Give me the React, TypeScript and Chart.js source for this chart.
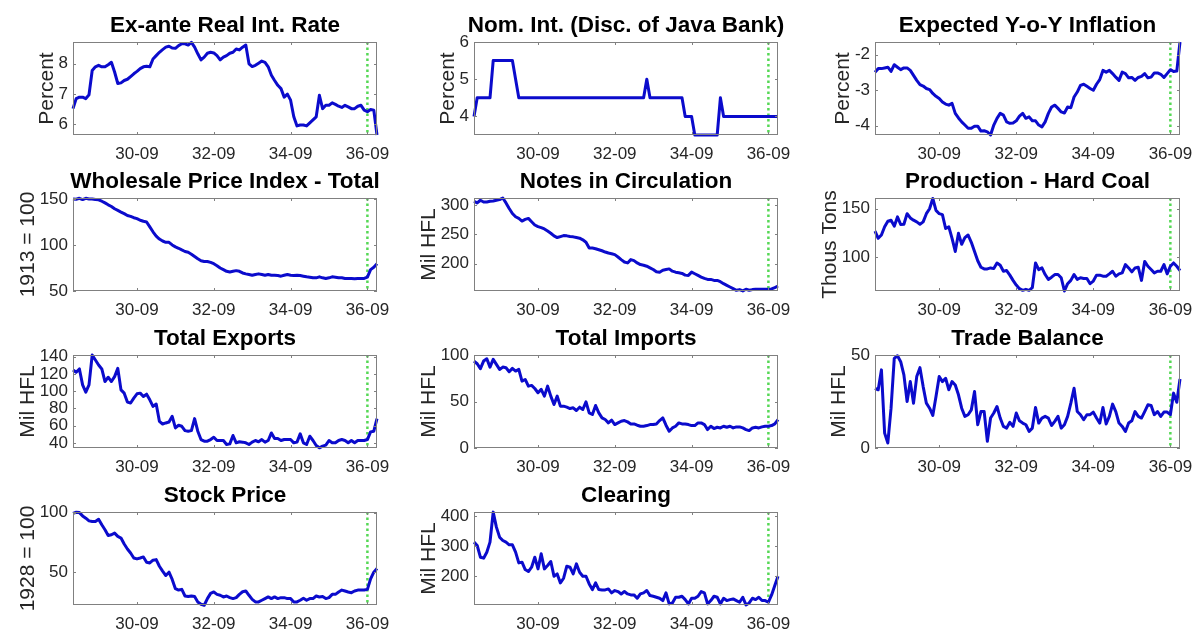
import React, { useEffect, useRef } from 'react';
import { Chart, registerables } from 'chart.js';

Chart.register(...registerables);

const FONT = '"Liberation Sans", Arial, Helvetica, sans-serif';
const LINE_COLOR = '#0b0bcc';
const BREAK_COLOR = '#55d855';
const AXIS_COLOR = '#808080';
const TEXT_COLOR = '#262626';

// x axis: month index, 0 = Jan 1929 ... 95 = Dec 1936
const monthCount = 96;
const monthIndex = Array.from({ length: monthCount }, (_, i) => i);
const xTickPositions = [20, 44, 68, 92];
const xTickLabels = ['30-09', '32-09', '34-09', '36-09'];
const breakMonth = 92;

const exAnteReal = [
  6.52, 6.85, 6.9, 6.9, 6.85, 6.98, 7.78, 7.9, 7.95, 7.9,
  7.9, 7.97, 8.05, 7.73, 7.35, 7.37, 7.45, 7.49, 7.58, 7.67,
  7.75, 7.84, 7.9, 7.92, 7.9, 8.16, 8.27, 8.38, 8.47, 8.55,
  8.58, 8.52, 8.51, 8.6, 8.66, 8.66, 8.62, 8.71, 8.55, 8.33,
  8.13, 8.22, 8.35, 8.38, 8.36, 8.27, 8.13, 8.22, 8.27, 8.35,
  8.38, 8.49, 8.46, 8.55, 8.62, 8.0, 7.91, 7.95, 8.02, 8.09,
  8.05, 7.9, 7.62, 7.45, 7.29, 7.18, 6.9, 7.0, 6.8, 6.25,
  5.95, 5.98, 5.98, 5.95, 6.05, 6.15, 6.25, 6.96, 6.52, 6.63,
  6.63, 6.71, 6.66, 6.6, 6.56, 6.63, 6.58, 6.52, 6.52, 6.6,
  6.63, 6.47, 6.42, 6.49, 6.47, 5.65,
];

const nomInterest = [
  4.0, 4.5, 4.5, 4.5, 4.5, 4.5, 5.5, 5.5, 5.5, 5.5,
  5.5, 5.5, 5.5, 5.0, 4.5, 4.5, 4.5, 4.5, 4.5, 4.5,
  4.5, 4.5, 4.5, 4.5, 4.5, 4.5, 4.5, 4.5, 4.5, 4.5,
  4.5, 4.5, 4.5, 4.5, 4.5, 4.5, 4.5, 4.5, 4.5, 4.5,
  4.5, 4.5, 4.5, 4.5, 4.5, 4.5, 4.5, 4.5, 4.5, 4.5,
  4.5, 4.5, 4.5, 4.5, 5.0, 4.5, 4.5, 4.5, 4.5, 4.5,
  4.5, 4.5, 4.5, 4.5, 4.5, 4.5, 4.0, 4.0, 4.0, 3.5,
  3.5, 3.5, 3.5, 3.5, 3.5, 3.5, 3.5, 4.5, 4.0, 4.0,
  4.0, 4.0, 4.0, 4.0, 4.0, 4.0, 4.0, 4.0, 4.0, 4.0,
  4.0, 4.0, 4.0, 4.0, 4.0, 4.0,
];

const expectedInflation = [
  -2.49, -2.39, -2.39, -2.37, -2.35, -2.47, -2.28, -2.35, -2.42, -2.37,
  -2.37, -2.44, -2.58, -2.72, -2.84, -2.88, -2.95, -2.98, -3.09, -3.17,
  -3.23, -3.33, -3.39, -3.42, -3.37, -3.65, -3.78, -3.89, -3.98, -4.07,
  -4.07, -4.01, -4.01, -4.15, -4.14, -4.17, -4.26, -3.98, -3.79, -3.65,
  -3.7, -3.89, -3.93, -3.92, -3.86, -3.73, -3.65, -3.79, -3.75, -3.86,
  -3.86, -3.98, -4.03, -3.89, -3.65, -3.47, -3.42, -3.51, -3.61, -3.64,
  -3.47, -3.49, -3.19, -3.05, -2.86, -2.83, -2.89, -2.95, -3.0, -2.83,
  -2.7, -2.44, -2.49, -2.44, -2.53, -2.63, -2.72, -2.49, -2.53, -2.65,
  -2.64, -2.72, -2.64, -2.61, -2.53, -2.65, -2.63, -2.51, -2.51, -2.55,
  -2.64, -2.53, -2.42, -2.47, -2.46, -1.64,
];

const wholesalePrice = [
  150, 149.6, 150.7, 149.3, 150.7, 150, 150, 149.3, 149, 147.5,
  145.7, 143.6, 141.8, 139.3, 137.5, 135.7, 134, 132, 131, 129.6,
  128.6, 126.8, 125.7, 125, 119.6, 114.3, 109.6, 106.4, 104.3, 102.9,
  102.9, 100, 97.9, 96.4, 94.6, 92.9, 92.1, 90, 87.5, 85,
  82.9, 82.1, 82.1, 81.1, 79.6, 77.5, 75, 73.2, 71.4, 70.7,
  71.4, 72.1, 71.4, 69.6, 68.6, 67.9, 67.1, 67.9, 68.6, 67.9,
  67.1, 67.9, 67.1, 67.1, 66.8, 66.1, 67.1, 67.9, 67.1, 66.8,
  67.1, 66.8, 66.1, 65.4, 65, 64.3, 64.3, 65.4, 64.3, 63.6,
  64.3, 65.4, 65, 64.3, 64.3, 63.6, 63.6, 63.6, 63.2, 63.6,
  63.6, 63.6, 65, 73.2, 75.7, 79.6,
];

const notesCirculation = [
  306.8, 304, 308.5, 305.6, 305.6, 306.8, 307.3, 308.5, 309.6, 312.4,
  304, 294.4, 285.9, 280.2, 277.4, 272.9, 275.7, 277.4, 271.8, 266.1,
  263.3, 261.6, 259.3, 255.9, 252, 247.5, 244.6, 246.3, 248, 247.5,
  246.3, 245.8, 244.6, 243.5, 240.7, 236.7, 226.6, 226.6, 225.4, 223.7,
  222, 219.8, 218.1, 216.9, 215.3, 211.3, 206.8, 202.8, 201.1, 206.8,
  205.1, 201.1, 198.3, 197.2, 195.5, 192.7, 189.8, 185.9, 185.3, 188.7,
  189.8, 190.9, 187, 185.3, 184.2, 183.1, 180.2, 179.7, 185.3, 182.5,
  179.7, 176.8, 174.6, 172.9, 172.9, 171.2, 171.2, 168.9, 165.5, 162.7,
  159.9, 157.1, 154.2, 155.4, 153.1, 156, 154.2, 155.4, 156, 156,
  156, 156, 156, 156.5, 158.8, 161.6,
];

const hardCoal = [
  127, 119.6, 123, 131.4, 137.2, 138.2, 132.1, 141.6, 133.8, 134.1,
  144.9, 140.5, 138.2, 136.5, 134.1, 136.5, 144.9, 150, 160.5, 148.3,
  144.9, 143.9, 129.7, 131.4, 119.6, 106.1, 124.7, 113.5, 120.3, 123,
  115.5, 106, 96.6, 89.9, 88.2, 88.2, 89.2, 88.5, 94.3, 91.9,
  85.8, 86.5, 81.8, 76.4, 71.6, 67.9, 66.2, 67.2, 66.2, 68.9,
  94.3, 87.5, 89.2, 82.4, 77.4, 79.7, 82.4, 82.4, 79.1, 65.5,
  73, 76.4, 82.4, 77.4, 79.1, 78.4, 78.4, 73, 75.7, 81.8,
  81.8, 80.7, 80.7, 83.1, 85.8, 80.7, 83.1, 84.1, 92.6, 89.2,
  85.1, 89.2, 89.9, 76.4, 95.9, 90.9, 87.5, 84.1, 85.8, 85.8,
  92.6, 83.1, 90.9, 94.3, 90.9, 86.5,
];

const totalExports = [
  124.6, 121.9, 125.8, 107.3, 98.8, 107.3, 141.9, 136.2, 130.4, 125.8,
  111.2, 116.2, 111.2, 116.9, 126.5, 101.5, 97.7, 87.3, 86.2, 91.9,
  96.9, 97.7, 93.8, 96.5, 90, 82.3, 85, 65, 61.9, 63.1,
  64.2, 70.8, 57.3, 60.4, 59.2, 54.2, 53.5, 54.2, 68.1, 53.5,
  43.8, 41.9, 41.9, 43.8, 46.5, 42.7, 42.7, 42.7, 38.1, 38.8,
  48.5, 40, 41.2, 40.8, 40, 38.1, 40.8, 42.7, 41.2, 43.8,
  40.8, 42.7, 51.5, 45, 45, 42.7, 43.8, 43.8, 43.8, 40,
  40.8, 50.4, 40, 38.1, 47.7, 42.7, 36.9, 34.2, 36.2, 37.3,
  42.7, 40, 40, 42.7, 43.8, 42.7, 40, 42.7, 40, 42.7,
  42.7, 42.7, 43.8, 52.7, 53.5, 68.1,
];

const totalImports = [
  93.5, 90.6, 85.3, 93.5, 96, 87, 95.3, 89.9, 84.5, 87,
  86.3, 82, 85.6, 82.7, 84.5, 71.9, 73.7, 66.5, 67.3, 64,
  59.4, 63, 55.8, 66.5, 55.8, 46.8, 55.8, 45, 45, 43.9,
  42.4, 43.2, 40.3, 43.9, 41.4, 49.6, 37.8, 36, 45.7, 37.8,
  32.4, 30.6, 27, 29.9, 25.2, 27, 28.8, 29.5, 28.1, 25.9,
  25.9, 24.5, 23.4, 23.4, 24.1, 25.2, 25.2, 25.9, 29.5, 32.4,
  24.5, 18, 21.6, 23.4, 27, 25.9, 25.9, 25.2, 24.1, 24.1,
  27, 27, 25.2, 19.8, 23.4, 20.9, 22.3, 21.6, 23.4, 22.3,
  23.4, 21.6, 22.7, 22.7, 21.6, 19.8, 18.7, 21.6, 22.3, 21.6,
  22.7, 23.4, 23.4, 24.1, 25.9, 30.6,
];

const tradeBalance = [
  32.1, 31.3, 42, 8, 2.7, 21.4, 48.2, 49.6, 46.4, 39.3,
  25, 35.7, 24.1, 38.4, 43.2, 33, 24.1, 21.4, 17.5, 27.7,
  38.4, 35.7, 37.5, 31.3, 35.7, 33.9, 28.6, 21.4, 17, 17.9,
  20.5, 30.4, 12.5, 19.6, 19.6, 3.6, 16.1, 18.8, 22.3, 16.1,
  11.6, 10.7, 13.8, 11.6, 18.8, 14.6, 13.4, 12.5, 8.9, 10.7,
  21.8, 13.4, 16.1, 17, 16.1, 12.1, 14.3, 17, 10.7, 12.5,
  17, 24.1, 32.1, 19.6, 17.9, 15.2, 17.9, 17.9, 19.3, 16.1,
  13.4, 21.8, 12.9, 17, 23.6, 19.6, 13.4, 11.6, 8.9, 13.4,
  14.6, 19.6, 17, 16.1, 19.6, 23.2, 22.9, 17.9, 19.6, 17,
  19.3, 19.3, 17.9, 29.5, 24.6, 37.1,
];

const stockPrice = [
  99.4, 100.3, 100, 97.2, 95.3, 93, 92.5, 92.5, 94.4, 89.7,
  85.5, 80.7, 81.3, 82.7, 79.9, 78.5, 73.5, 69.3, 65.9, 61.7,
  60.9, 61.7, 62.6, 58.1, 57.5, 59.8, 60.3, 54.7, 50.6, 46.9,
  49.7, 43.6, 35.8, 34.6, 35.2, 29.6, 29.1, 29.6, 29.1, 24.6,
  22.6, 21.8, 27.4, 31.8, 33, 31, 30.2, 28.8, 29.6, 28.2,
  27.4, 28.2, 31, 33.2, 33.8, 30.2, 26.8, 24.6, 24.6, 26,
  27.4, 28.8, 27.4, 28.8, 27.4, 28.2, 28.2, 27.4, 27.4, 24.6,
  24.6, 26, 27.7, 26, 27.4, 27.4, 29.6, 28.8, 29.1, 27.4,
  28.2, 31, 31, 33, 34.6, 33.8, 33, 32.4, 33.8, 34.6,
  34.6, 34.6, 35.2, 44.1, 49.7, 52.8,
];

const clearing = [
  313.5, 302.2, 262.9, 259.6, 279.8, 313.5, 414.6, 364, 330.3, 319.1,
  313.5, 304.5, 304.5, 279.8, 243.8, 246.1, 221.3, 214.6, 229.2, 262.9,
  223.6, 274.2, 223.6, 234.8, 248.3, 198.9, 206.7, 176.4, 192.1, 232.6,
  229.2, 206.7, 240.4, 212.4, 198.9, 198.9, 173, 153.9, 176.4, 153.9,
  152.8, 152.8, 156.2, 142.7, 150.6, 147.2, 139.3, 147.2, 139.3, 136,
  136, 124.7, 139.3, 142.7, 150.6, 133.7, 131.5, 128.1, 124.7, 116.9,
  142.7, 105.6, 109, 128.1, 128.1, 131.5, 120.2, 105.6, 124.7, 124.7,
  131.5, 147.2, 142.7, 105.6, 116.9, 131.5, 128.1, 105.6, 124.7, 116.9,
  120.2, 122.5, 116.9, 111.2, 128.1, 102.2, 109, 124.7, 120.2, 128.1,
  116.9, 116.9, 111.2, 136, 167.4, 198.9,
];

const panelTitles = [
  'Ex-ante Real Int. Rate', 'Nom. Int. (Disc. of Java Bank)', 'Expected Y-o-Y Inflation',
  'Wholesale Price Index - Total', 'Notes in Circulation', 'Production - Hard Coal',
  'Total Exports', 'Total Imports', 'Trade Balance',
  'Stock Price', 'Clearing',
];
const panelYLabels = [
  'Percent', 'Percent', 'Percent',
  '1913 = 100', 'Mil HFL', 'Thous Tons',
  'Mil HFL', 'Mil HFL', 'Mil HFL',
  '1928 = 100', 'Mil HFL',
];
const panelSeries = [
  exAnteReal, nomInterest, expectedInflation,
  wholesalePrice, notesCirculation, hardCoal,
  totalExports, totalImports, tradeBalance,
  stockPrice, clearing,
];
const panelYMin = [5.65, 3.5, -4.26, 50, 153, 65.5, 34, 0, 0, 22, 102];
const panelYMax = [8.72, 6, -1.64, 151, 312.4, 161, 142, 100, 50, 100.5, 415];
const panelYTicks = [
  [6, 7, 8], [4, 5, 6], [-4, -3, -2],
  [50, 100, 150], [200, 250, 300], [100, 150],
  [40, 60, 80, 100, 120, 140], [0, 50, 100], [0, 50],
  [50, 100], [200, 300, 400],
];

// layout of the grid (plot-area boxes)
const colLefts = [73, 474, 875];
const colWidths = [304, 304, 305];
const rowTops = [42, 198, 355, 512];
const plotH = 93;
const M_L = 90;
const M_R = 90;
const M_T = 42;
const M_B = 34;

function makeDecor(idx: number) {
  return {
    id: 'decor' + idx,
    beforeDatasetsDraw(chart: any) {
      const { ctx, chartArea, scales } = chart;
      const px = scales.x.getPixelForValue(breakMonth);
      ctx.save();
      ctx.strokeStyle = BREAK_COLOR;
      ctx.lineWidth = 2.5;
      ctx.setLineDash([2.5, 3]);
      ctx.beginPath();
      ctx.moveTo(px, chartArea.top);
      ctx.lineTo(px, chartArea.bottom);
      ctx.stroke();
      ctx.restore();
    },
    afterDraw(chart: any) {
      const { ctx, chartArea, scales } = chart;
      const { left, right, top, bottom } = chartArea;
      ctx.save();
      // box
      ctx.strokeStyle = AXIS_COLOR;
      ctx.lineWidth = 1;
      ctx.strokeRect(Math.round(left) + 0.5, Math.round(top) + 0.5, Math.round(right - left) - 1, Math.round(bottom - top) - 1);
      // inward ticks
      const tl = 3;
      ctx.beginPath();
      xTickPositions.forEach((v) => {
        const x = Math.round(scales.x.getPixelForValue(v)) + 0.5;
        ctx.moveTo(x, bottom);
        ctx.lineTo(x, bottom - tl);
        ctx.moveTo(x, top);
        ctx.lineTo(x, top + tl);
      });
      panelYTicks[idx].forEach((v) => {
        const y = Math.round(scales.y.getPixelForValue(v)) + 0.5;
        ctx.moveTo(left, y);
        ctx.lineTo(left + tl, y);
        ctx.moveTo(right, y);
        ctx.lineTo(right - tl, y);
      });
      ctx.stroke();
      // title
      ctx.fillStyle = '#000000';
      ctx.font = `bold 22.5px ${FONT}`;
      ctx.textAlign = 'center';
      ctx.textBaseline = 'alphabetic';
      ctx.fillText(panelTitles[idx], (left + right) / 2, top - 10);
      // y label
      ctx.font = `17px ${FONT}`;
      let maxW = 0;
      panelYTicks[idx].forEach((v) => {
        maxW = Math.max(maxW, ctx.measureText(String(v)).width);
      });
      const lx = left - 5 - maxW - 6;
      ctx.font = `21px ${FONT}`;
      ctx.fillStyle = TEXT_COLOR;
      ctx.translate(lx, (top + bottom) / 2);
      ctx.rotate(-Math.PI / 2);
      ctx.textAlign = 'center';
      ctx.textBaseline = 'alphabetic';
      ctx.fillText(panelYLabels[idx], 0, 0);
      ctx.restore();
    },
  };
}

function Panel({ idx }: { idx: number }) {
  const ref = useRef<HTMLCanvasElement>(null);
  const col = idx % 3;
  const row = Math.floor(idx / 3);
  const w = colWidths[col] + M_L + M_R;
  const h = plotH + M_T + M_B;

  useEffect(() => {
    if (!ref.current) return;
    const series = panelSeries[idx];
    const chart = new Chart(ref.current, {
      type: 'line',
      data: {
        datasets: [
          {
            data: series.map((v, i) => ({ x: monthIndex[i], y: v })),
            borderColor: LINE_COLOR,
            borderWidth: 3,
            pointRadius: 0,
            tension: 0,
            fill: false,
            borderJoinStyle: 'round',
            clip: 2,
          },
        ],
      },
      options: {
        responsive: false,
        animation: false,
        devicePixelRatio: 1,
        events: [],
        layout: { padding: { left: 0, right: M_R, top: M_T, bottom: 0 } },
        plugins: {
          legend: { display: false },
          tooltip: { enabled: false },
          title: { display: false },
        },
        scales: {
          x: {
            type: 'linear',
            min: 0,
            max: monthCount - 1,
            grid: { display: false, drawTicks: false },
            border: { display: false },
            afterBuildTicks: (s: any) => {
              s.ticks = xTickPositions.map((v) => ({ value: v }));
            },
            afterFit: (s: any) => {
              s.height = M_B;
            },
            ticks: {
              autoSkip: false,
              maxRotation: 0,
              minRotation: 0,
              padding: 9,
              color: TEXT_COLOR,
              font: { family: FONT, size: 17 },
              callback: (v: any) => {
                const k = xTickPositions.indexOf(Number(v));
                return k >= 0 ? xTickLabels[k] : '';
              },
            },
          },
          y: {
            type: 'linear',
            min: panelYMin[idx],
            max: panelYMax[idx],
            grid: { display: false, drawTicks: false },
            border: { display: false },
            afterBuildTicks: (s: any) => {
              s.ticks = panelYTicks[idx].map((v) => ({ value: v }));
            },
            afterFit: (s: any) => {
              s.width = M_L;
            },
            ticks: {
              autoSkip: false,
              padding: 5,
              color: TEXT_COLOR,
              font: { family: FONT, size: 17 },
              callback: (v: any) => String(v),
            },
          },
        },
      } as any,
      plugins: [makeDecor(idx)],
    });
    return () => chart.destroy();
  }, [idx]);

  return (
    <canvas
      ref={ref}
      width={w}
      height={h}
      style={{
        position: 'absolute',
        left: colLefts[col] - M_L,
        top: rowTops[row] - M_T,
        width: w,
        height: h,
      }}
    />
  );
}

export default function App() {
  return (
    <div
      style={{
        position: 'absolute',
        left: 0,
        top: 0,
        width: 1194,
        height: 633,
        background: '#ffffff',
        overflow: 'hidden',
      }}
    >
      {panelTitles.map((_, i) => (
        <Panel key={i} idx={i} />
      ))}
    </div>
  );
}
